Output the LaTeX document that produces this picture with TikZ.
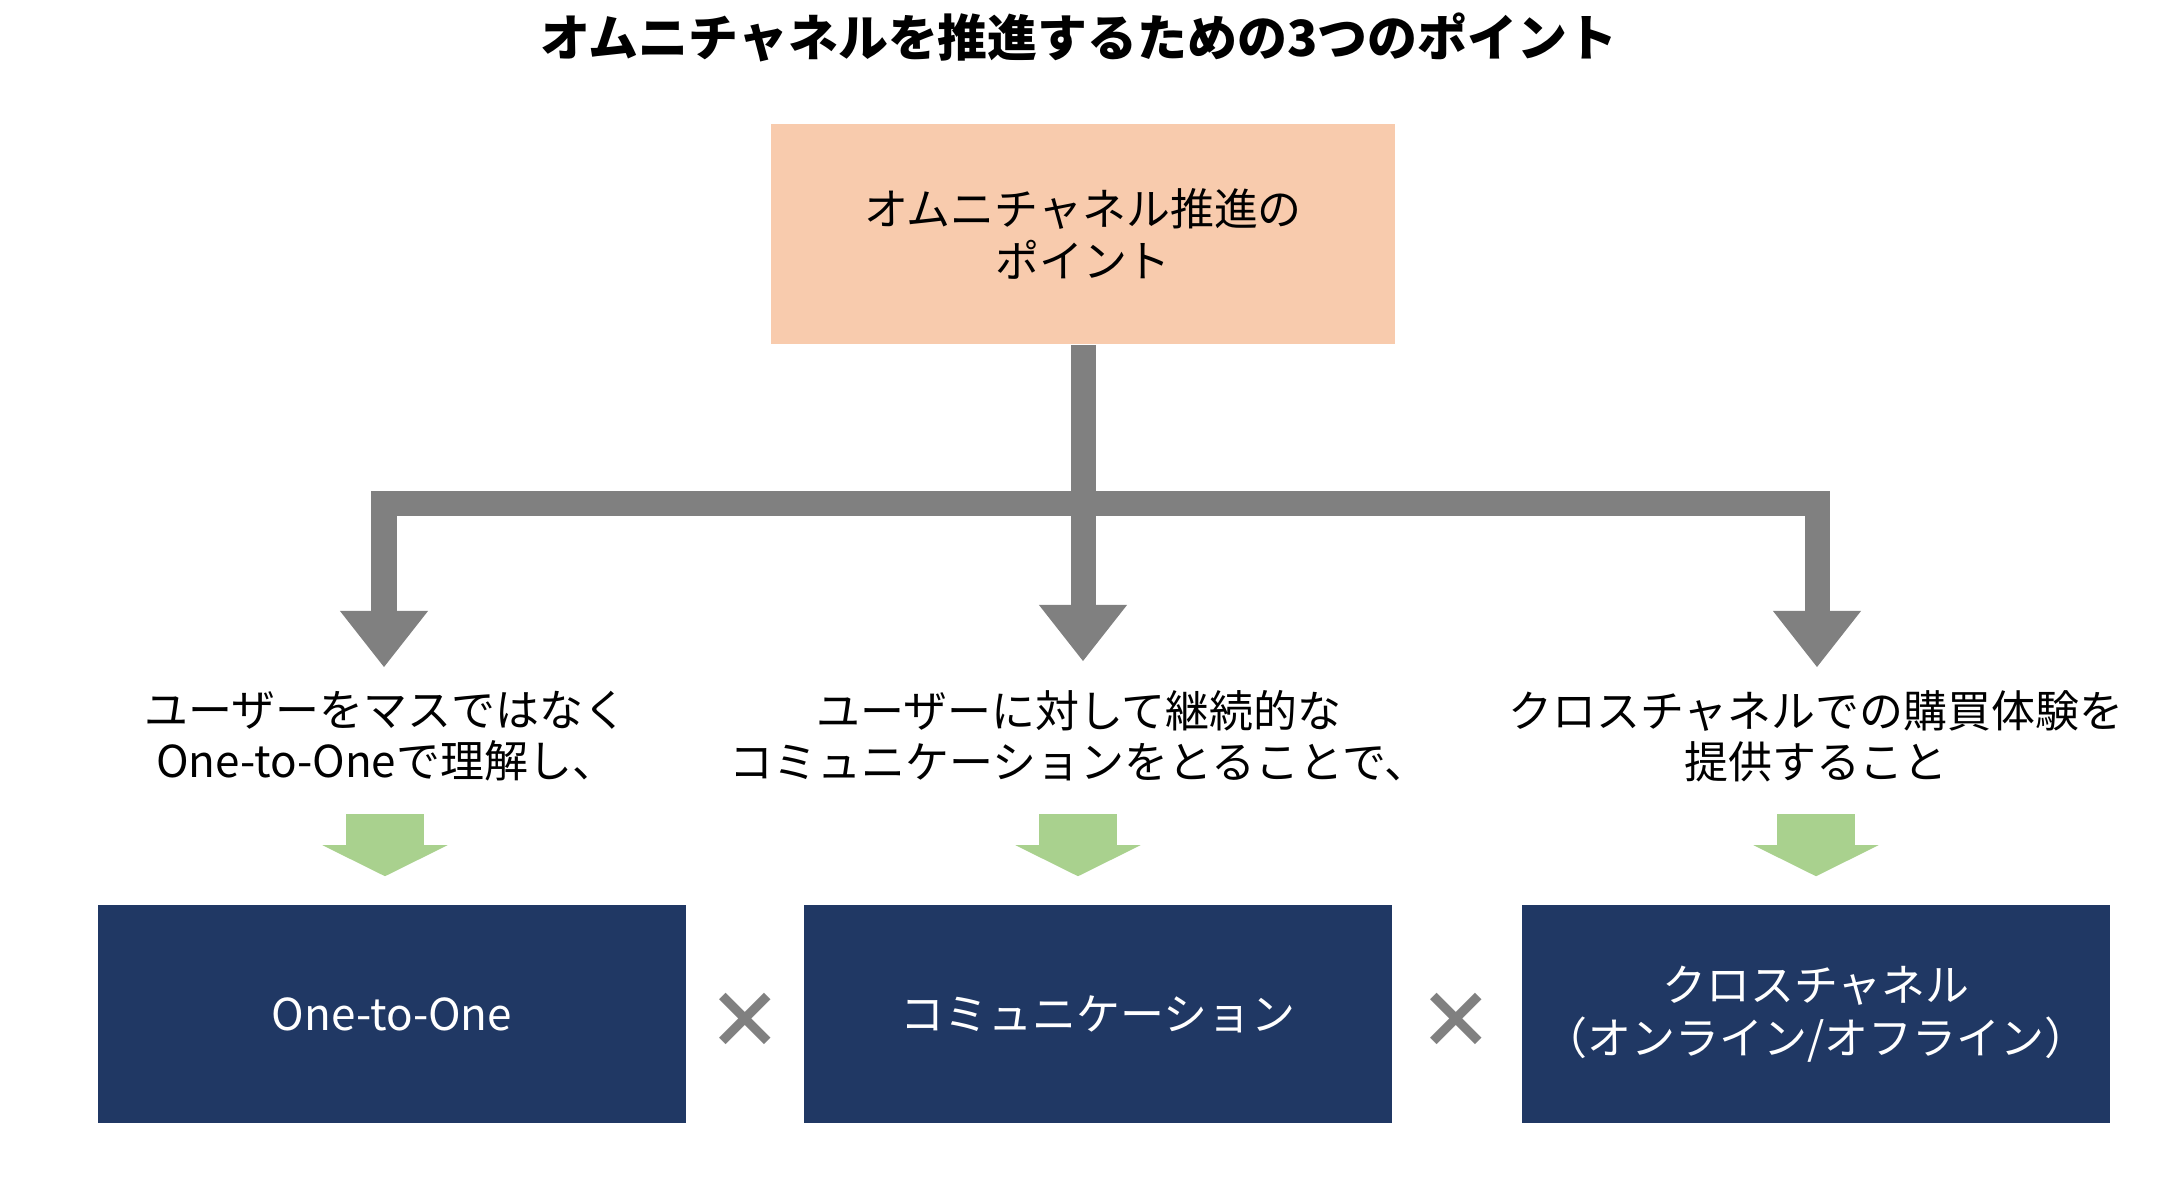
\documentclass[tikz,border=0pt]{standalone}
\usepackage{fontspec}
\setmainfont{Noto Sans CJK JP}
\usetikzlibrary{arrows.meta}
\definecolor{peach}{HTML}{F8CBAD}
\definecolor{navy}{HTML}{203864}
\definecolor{leaf}{HTML}{A9D18E}
\definecolor{bargray}{HTML}{808080}
\tikzset{
  pointbox/.style={fill=peach, minimum width=6.23cm, minimum height=2.20cm, align=center, font=\fontsize{12.5}{15}\selectfont},
  themebox/.style={fill=navy, text=white, minimum width=5.88cm, minimum height=2.18cm, align=center, font=\fontsize{12.5}{15}\selectfont},
  note/.style={align=center, font=\fontsize{12.5}{14.5}\selectfont},
  bar/.style={draw=bargray, line width=0.25cm},
  bartip/.style={bar, -{Triangle[length=0.56cm, width=0.88cm, line width=0pt]}},
  greenarrow/.style={draw=leaf, line width=0.78cm, -{Triangle[length=0.31cm, width=1.25cm, line width=0pt]}},
  times/.style={text=bargray, font=\fontsize{22}{22}\selectfont\bfseries}
}
\begin{document}
\begin{tikzpicture}[x=0.01cm, y=-0.01cm]
  \useasboundingbox (0,0) rectangle (2160,1193);
  % title
  \node [font=\fontsize{14.2}{16}\selectfont\bfseries] (title) at (1079,37) {オムニチャネルを推進するための3つのポイント};
  \node [pointbox] (top) at (1083,234) {オムニチャネル推進の\\ポイント};
  % the three points
  \node [note] (noteA) at (386,736) {ユーザーをマスではなく\\One-to-Oneで理解し、};
  \node [note] (noteB) at (1079,736) {ユーザーに対して継続的な\\コミュニケーションをとることで、};
  \node [note] (noteC) at (1816,736) {クロスチャネルでの購買体験を\\提供すること};
  \node [themebox] (boxA) at (392,1014) {One-to-One};
  \node [themebox] (boxB) at (1098,1014) {コミュニケーション};
  \node [themebox] (boxC) at (1816,1014) {クロスチャネル\\（オンライン/オフライン）};
  \node [times] (xA) at (745,1021) {×};
  \node [times] (xB) at (1456,1021) {×};
  % gray tree
  \coordinate (split) at (1083,503);
  \coordinate (tipA) at (384,667);
  \coordinate (tipB) at (1083,661);
  \coordinate (tipC) at (1817,667);
  \draw [bar] (top.south) -- (split);
  \draw [bartip] (split) -| (tipA);
  \draw [bartip] (split) -- (tipB);
  \draw [bartip] (split) -| (tipC);
  % green arrows
  \coordinate (gA) at (385,814);
  \coordinate (gB) at (1078,814);
  \coordinate (gC) at (1816,814);
  \draw [greenarrow, shorten >=0.28cm] (gA) -- (gA |- boxA.north);
  \draw [greenarrow, shorten >=0.28cm] (gB) -- (gB |- boxB.north);
  \draw [greenarrow, shorten >=0.28cm] (gC) -- (gC |- boxC.north);
\end{tikzpicture}
\end{document}
